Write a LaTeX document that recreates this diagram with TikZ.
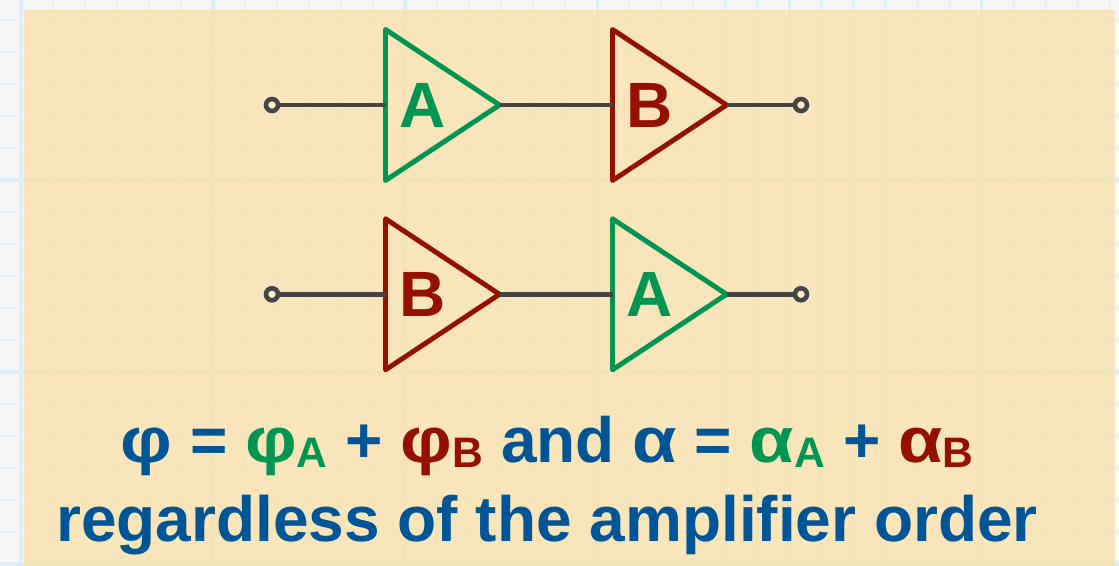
\documentclass[tikz,border=0pt]{standalone}
\usepackage{fontspec}
\setmainfont{Liberation Sans}
\usetikzlibrary{arrows.meta,positioning,calc,shapes.geometric}
\definecolor{PageGray}{HTML}{F6F6F6}
\definecolor{GridBlue}{HTML}{DCEEF7}
\definecolor{NotePaper}{HTML}{FBE0A4}
\definecolor{WireGray}{HTML}{444444}
\definecolor{ampverde}{HTML}{009651}
\definecolor{amprojo}{HTML}{941100}
\definecolor{textazul}{HTML}{005596}
\tikzset{
  amp/.style      = {draw, isosceles triangle, isosceles triangle stretches,
                     minimum width=113.25pt, minimum height=85.5pt, inner sep=0pt,
                     outer sep=0pt, line width=3.7pt, line join=round},
  amplbl/.style   = {font=\fontsize{48}{48}\selectfont\bfseries, inner sep=0pt},
  wire/.style     = {line width=3.7pt, draw=WireGray},
  terminal/.style = {draw=WireGray, circle, line width=3.4pt, fill=NotePaper!60,
                     minimum size=9pt, inner sep=0pt, outer sep=0pt},
  rotulo/.style   = {font=\fontsize{48}{56}\selectfont\bfseries, text=textazul,
                     inner sep=0pt},
  rejilla/.style  = {GridBlue!80, line width=1.6pt},
  rejillaf/.style = {GridBlue, line width=2.8pt},
}
\newcommand{\verde}[1]{\textcolor{ampverde}{#1}}
\newcommand{\rojo}[1]{\textcolor{amprojo}{#1}}
\newcommand{\sub}[1]{{\fontsize{32}{32}\selectfont\raisebox{-4pt}{#1}}}
\newcommand{\fase}{\scalebox{1.13}[1]{φ}}
\newcommand{\alfa}{\scalebox{1.13}[1]{α}}
\begin{document}
\begin{tikzpicture}[x=0.75pt,y=-0.75pt]
  \useasboundingbox (0,0) rectangle (1119,566);
  \fill[PageGray] (0,0) rectangle (1119,566);
  % rejilla del fondo
  \foreach \i in {0,...,34} {
    \pgfmathtruncatemacro{\r}{mod(\i,6)}
    \ifnum\r=0 \tikzset{rejx/.style={rejillaf}}\else \tikzset{rejx/.style={rejilla}}\fi
    \draw[rejx] ({21+32.02*\i},0) -- ({21+32.02*\i},566);
  }
  \foreach \j in {0,...,17} {
    \pgfmathtruncatemacro{\r}{mod(\j,6)}
    \ifnum\r=5 \tikzset{rejy/.style={rejillaf}}\else \tikzset{rejy/.style={rejilla}}\fi
    \draw[rejy] (0,{20+32*\j}) -- (1119,{20+32*\j});
  }
  \fill[NotePaper, opacity=0.74] (24,10) rectangle (1115,566);
  % fila de arriba
  \node[amp, draw=ampverde, anchor=lower side] (ampA1) at (385.5,105) {};
  \node[amp, draw=amprojo, right=84.75pt of ampA1] (ampB1) {};
  \node[amplbl, text=ampverde] (lblA1) at ($(ampA1.lower side)+(37,0)$) {A};
  \node[amplbl, text=amprojo] (lblB1) at ($(ampB1.lower side)+(37,0)$) {B};
  \node[terminal] (in1) at (272,105) {};
  \node[terminal] (out1) at (801,105) {};
  \draw[wire] (in1) -- (ampA1.lower side);
  \draw[wire] (ampA1.apex) -- (ampB1.lower side);
  \draw[wire] (ampB1.apex) -- (out1);
  % fila de abajo
  \node[amp, draw=amprojo, below=69pt of ampA1] (ampB2) {};
  \node[amp, draw=ampverde, right=84.75pt of ampB2] (ampA2) {};
  \node[amplbl, text=amprojo] (lblB2) at ($(ampB2.lower side)+(37,0)$) {B};
  \node[amplbl, text=ampverde] (lblA2) at ($(ampA2.lower side)+(37,0)$) {A};
  \node[terminal] (in2) at (in1 |- ampB2.lower side) {};
  \node[terminal] (out2) at (out1 |- ampB2.lower side) {};
  \draw[wire] (in2) -- (ampB2.lower side);
  \draw[wire] (ampB2.apex) -- (ampA2.lower side);
  \draw[wire] (ampA2.apex) -- (out2);
  \node[rotulo] (suma) at (547,446) {\fase{} = \verde{\fase\sub{A}} + \rojo{\fase\sub{B}} and \alfa{} = \verde{\alfa\sub{A}} + \rojo{\alfa\sub{B}}};
  \node[rotulo] (orden) at (547,525) {regardless of the amplifier order};
\end{tikzpicture}
\end{document}
